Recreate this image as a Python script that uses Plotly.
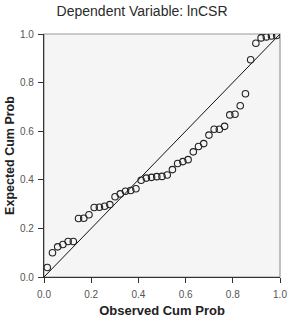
import plotly.graph_objects as go

observed = [0.0138, 0.0359, 0.0580, 0.0801, 0.1022, 0.1243, 0.1464, 0.1685, 0.1906,
            0.2127, 0.2348, 0.2569, 0.2790, 0.3011, 0.3232, 0.3453, 0.3674, 0.3895,
            0.4116, 0.4337, 0.4558, 0.4779, 0.5000, 0.5221, 0.5442, 0.5663, 0.5884,
            0.6105, 0.6326, 0.6547, 0.6768, 0.6989, 0.7210, 0.7431, 0.7652, 0.7873,
            0.8094, 0.8315, 0.8536, 0.8757, 0.8978, 0.9199, 0.9420, 0.9641, 0.9862]
expected = [0.039, 0.100, 0.124, 0.134, 0.146, 0.146, 0.241, 0.242, 0.256,
            0.286, 0.287, 0.291, 0.298, 0.330, 0.342, 0.353, 0.356, 0.363,
            0.398, 0.407, 0.410, 0.413, 0.414, 0.420, 0.442, 0.467, 0.475,
            0.483, 0.515, 0.537, 0.549, 0.584, 0.608, 0.608, 0.620, 0.667,
            0.670, 0.705, 0.754, 0.894, 0.962, 0.984, 0.988, 0.992, 0.994]
ref_line = [0.0, 1.0]
ticks = [0.0, 0.2, 0.4, 0.6, 0.8, 1.0]

fig = go.Figure()
fig.add_trace(go.Scatter(x=ref_line, y=ref_line, mode="lines",
                         line=dict(color="#111111", width=1), hoverinfo="skip"))
fig.add_trace(go.Scatter(x=observed, y=expected, mode="markers",
                         marker=dict(symbol="circle-open", size=6.5,
                                     color="#222222", line=dict(width=1.1))))

fig.add_shape(type="rect", xref="x domain", yref="y domain", x0=0, y0=0, x1=1, y1=1,
              line=dict(color="#999999", width=1.2), fillcolor="#f5f5f5", layer="below")

axis_common = dict(range=[0, 1], tickvals=ticks, tickformat=".1f", showgrid=False,
                   zeroline=False, showline=True, linecolor="#333333", linewidth=1.3,
                   ticks="outside", ticklen=5, tickcolor="#333333", tickwidth=1,
                   tickfont=dict(family="Liberation Sans, Arial", size=10, color="#555555"))

fig.update_xaxes(**axis_common, ticklabelstandoff=3,
                 title=dict(text="<b>Observed Cum Prob</b>", standoff=6,
                            font=dict(family="Liberation Sans, Arial", size=13, color="#222222")))
fig.update_yaxes(**axis_common, ticklabelstandoff=2,
                 title=dict(text="<b>Expected Cum Prob</b>", standoff=2,
                            font=dict(family="Liberation Sans, Arial", size=12.5, color="#222222")))

fig.update_layout(
    width=296, height=324,
    margin=dict(l=42, r=9, t=34, b=43),
    paper_bgcolor="white", plot_bgcolor="rgba(0,0,0,0)",
    showlegend=False,
    title=dict(text="Dependent Variable: lnCSR", x=0.48, xanchor="center",
               y=0.965, yanchor="middle",
               font=dict(family="Liberation Sans, Arial", size=14, color="#2a2a2a")),
)

fig.write_html("out.html")
